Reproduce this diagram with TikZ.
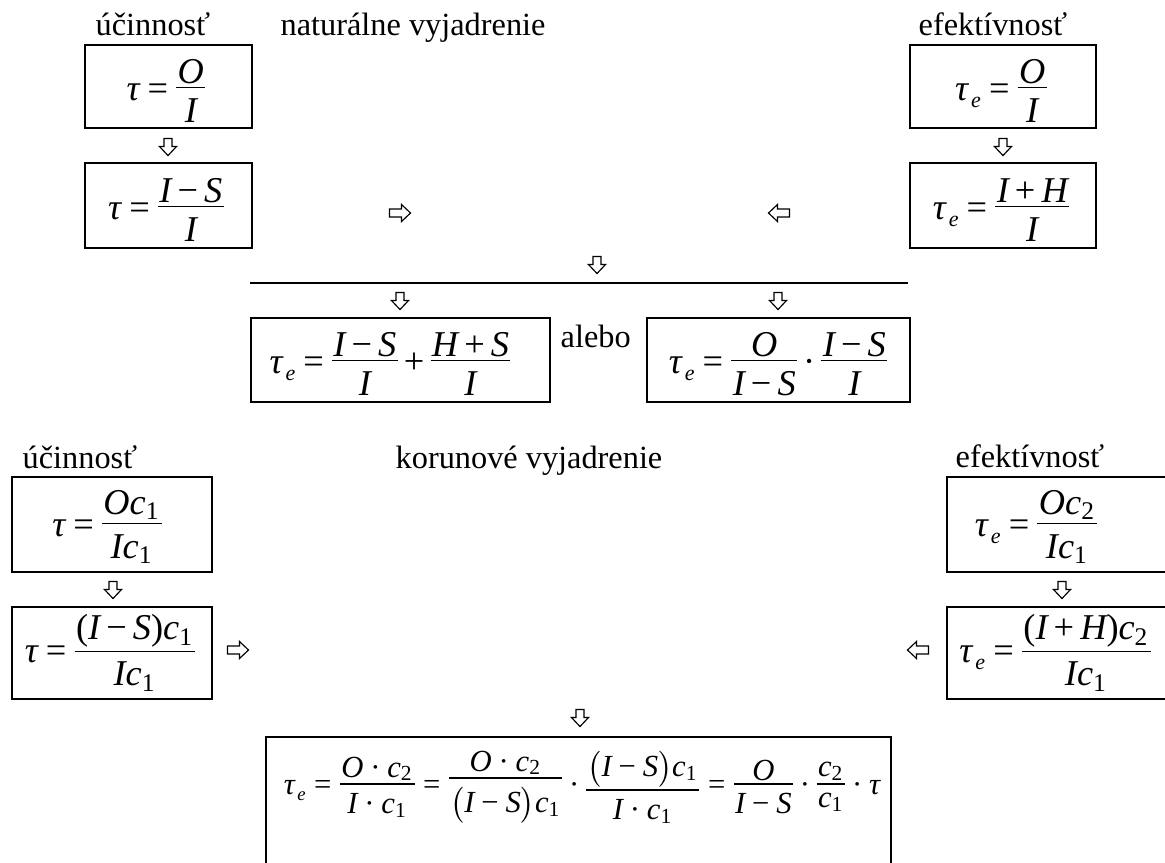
\documentclass[tikz,border=0pt]{standalone}
\usepackage{amsmath}
\usepackage{fontspec}
\setmainfont{Liberation Serif}
\usetikzlibrary{fit}
\newcommand\V[1]{\textit{#1}}
\newcommand\D[1]{\textup{#1}}
\newcommand\eq{\mathrel{\textup{=}}}
\newcommand\mn{\mathbin{\textup{−}}}
\newcommand\pl{\mathbin{\textup{+}}}
\newcommand\cd{\mathbin{\textup{·}}}
\newcommand\lp{\mathopen{\textup{(}}}
\newcommand\rp{\mathclose{\textup{)}}}
\newcommand\te[1][6.6]{\mathord{\V{τ}\mkern1.5mu\lower0.2em\hbox{\fontsize{#1}{#1}\selectfont\itshape e}}}
\newcommand\fsetup{\thickmuskip=4mu\medmuskip=3mu\nulldelimiterspace=0pt\relax}
\newcommand\ksetup{\thickmuskip=5mu\medmuskip=4mu\nulldelimiterspace=0pt\relax}
\newcommand\fr[2]{\mathord{\vcenter{\halign{\kern0.04em\hfil##\hfil\kern0.04em\cr
  $#1$\cr
  \noalign{\kern0.08em\hrule height0.4pt\kern0.28em}
  $#2$\cr}}}}
\begin{document}
\begin{tikzpicture}[x=0.3pt,y=-0.3pt,
  fbox/.style={draw, line width=0.85pt, inner sep=0pt},
  lbl/.style={font=\fontsize{9.7}{11}\selectfont, inner sep=0pt, anchor=base west},
  fml/.style={font=\fontsize{10.9}{13}\selectfont\fsetup, inner sep=0pt},
  fmlk/.style={font=\fontsize{9.2}{11}\selectfont\ksetup, inner sep=0pt},
  blockarr/.pic={
    \draw[line width=0.35pt, line join=miter, fill=white]
      (-#1/2,-4) -- (#1/2-9,-4) -- (#1/2-9,-8.5) -- (#1/2,0) --
      (#1/2-9,8.5) -- (#1/2-9,4) -- (-#1/2,4) -- cycle;}]
\clip (0,0) rectangle (1165,862);
\fill[white] (0,0) rectangle (1165,862);
% ---------- natural expression ----------
\node[lbl] (l1) at (95,35) {účinnosť};
\node[lbl] (l2) at (280,35) {naturálne vyjadrenie};
\node[lbl] (l3) at (918,35) {efektívnosť};
\node[fbox, fit={(85,45) (252,128)}] (A) {};
\node[fml] (fA) at (166,91) {$\V{τ} \eq \fr{\V{O}}{\V{I}}$};
\pic[rotate=-90] (aA) at (168,147) {blockarr=17};
\node[fbox, fit={(85,163) (252,248)}] (B) {};
\node[fml] (fB) at (166,210) {$\V{τ} \eq \fr{\V{I} \mn \V{S}}{\V{I}}$};
\pic (aB) at (400,213) {blockarr=21};
\node[fbox, fit={(910,45) (1096,128)}] (C) {};
\node[fml] (fC) at (1001,91) {$\te \eq \fr{\V{O}}{\V{I}}$};
\pic[rotate=-90] (aC) at (1003,147) {blockarr=17};
\node[fbox, fit={(910,163) (1096,248)}] (D) {};
\node[fml] (fD) at (1001,210) {$\te \eq \fr{\V{I} \pl \V{H}}{\V{I}}$};
\pic[rotate=180] (aD) at (779,213) {blockarr=21};
\pic[rotate=-90] (aM) at (597,265) {blockarr=17};
\coordinate (hl) at (250,283);
\coordinate (hr) at (908,283);
\draw[line width=0.8pt] (hl) -- (hr);
\pic[rotate=-90] (aE) at (400,301) {blockarr=17};
\pic[rotate=-90] (aF) at (778,301) {blockarr=17};
\node[fbox, fit={(251,318) (550,402)}] (E) {};
\node[fml] (fE) at (390,364) {$\te \eq \fr{\V{I}\mn\V{S}}{\V{I}} \pl \fr{\V{H}\pl\V{S}}{\V{I}}$};
\node[lbl] (alebo) at (560,347) {alebo};
\node[fbox, fit={(647,318) (910,402)}] (F) {};
\node[fml] (fF) at (778,364) {$\te \eq \fr{\V{O}}{\V{I}\mn\V{S}} \cd \fr{\V{I}\mn\V{S}}{\V{I}}$};
% ---------- monetary expression ----------
\node[lbl] (l4) at (22,468) {účinnosť};
\node[lbl] (l5) at (395,468) {korunové vyjadrenie};
\node[lbl] (l6) at (955,467) {efektívnosť};
\node[fbox, fit={(12,477) (212,572)}] (G) {};
\node[fml] (fG) at (107,527) {$\V{τ} \eq \fr{\V{O}\V{c}_{\D{1}}}{\V{I}\V{c}_{\D{1}}}$};
\pic[rotate=-90] (aG) at (113,590) {blockarr=17};
\node[fbox, fit={(12,607) (212,699)}] (H) {};
\node[fml] (fH) at (110,653) {$\V{τ} \eq \fr{\lp\V{I}\mn\V{S}\rp\V{c}_{\D{1}}}{\V{I}\V{c}_{\D{1}}}$};
\pic (aH) at (238,650) {blockarr=21};
\node[fbox, fit={(947,477) (1195,572)}] (I) {};
\node[fml] (fI) at (1036,527) {$\te \eq \fr{\V{O}\V{c}_{\D{2}}}{\V{I}\V{c}_{\D{1}}}$};
\pic[rotate=-90] (aI) at (1062,590) {blockarr=17};
\node[fbox, fit={(947,607) (1195,699)}] (J) {};
\node[fml] (fJ) at (1055,653) {$\te \eq \fr{\lp\V{I}\pl\V{H}\rp\V{c}_{\D{2}}}{\V{I}\V{c}_{\D{1}}}$};
\pic[rotate=180] (aJ) at (918,650) {blockarr=21};
\pic[rotate=-90] (aK) at (580,718) {blockarr=17};
\node[fbox, fit={(266,737) (891,900)}] (K) {};
\node[fmlk] (fK) at (582,787) {$\te[5.6] \eq \fr{\V{O}\cd \V{c}_{\D{2}}}{\V{I}\cd\V{c}_{\D{1}}} \eq \fr{\V{O}\cd\V{c}_{\D{2}}}{\bigl(\V{I}\mn\V{S}\bigr)\V{c}_{\D{1}}} \cd \fr{\bigl(\V{I}\mn\V{S}\bigr)\V{c}_{\D{1}}}{\V{I}\cd\V{c}_{\D{1}}} \eq \fr{\V{O}}{\V{I}\mn\V{S}}\cd\fr{\V{c}_{\D{2}}}{\V{c}_{\D{1}}}\cd\V{τ}$};
\end{tikzpicture}
\end{document}
